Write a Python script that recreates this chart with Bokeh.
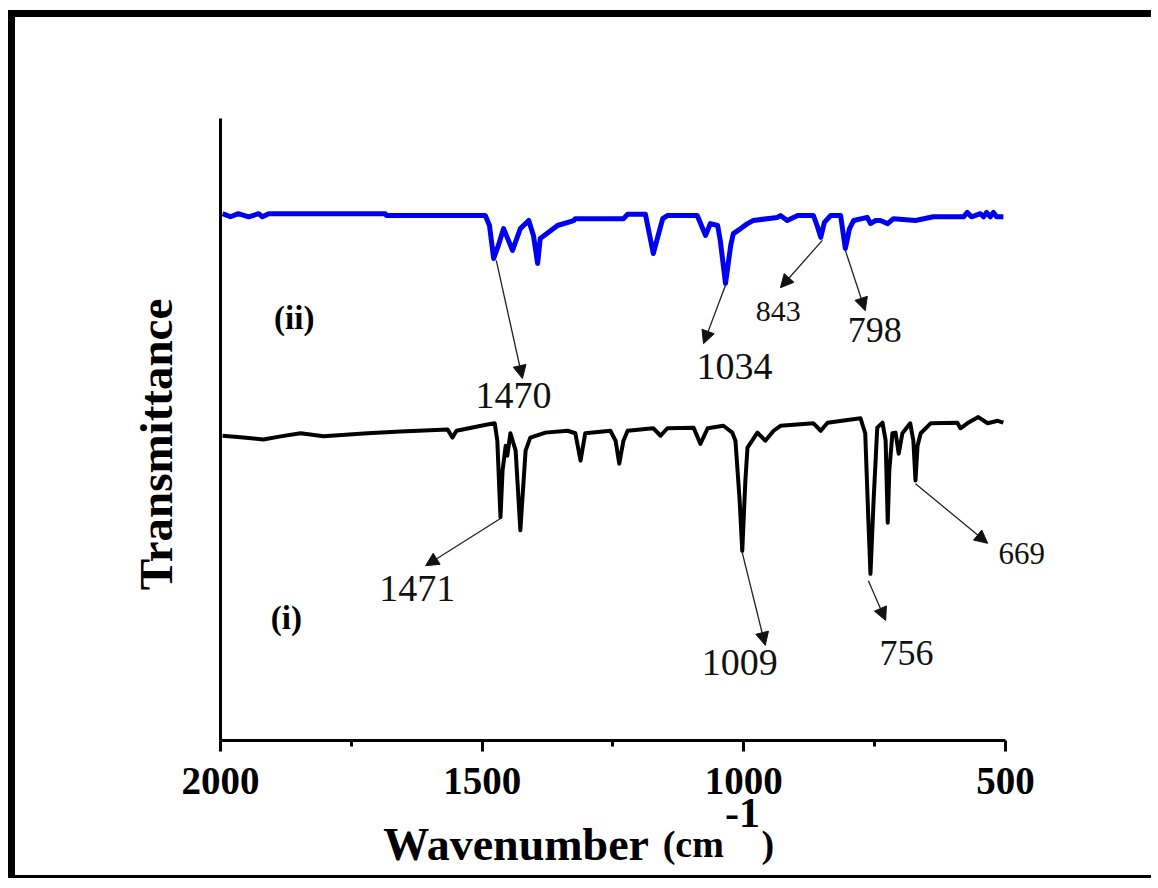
from math import pi
from bokeh.plotting import figure
from bokeh.models import Range1d, Label, Arrow, NormalHead, FixedTicker
from bokeh.embed import file_html
from bokeh.resources import INLINE

# ---- data ----
wn_ii = [1996, 1981, 1966, 1946, 1927, 1920, 1908, 1761, 1685, 1683, 1494, 1486, 1478, 1469,
         1459, 1442, 1427, 1411, 1402, 1394, 1389, 1373, 1356, 1325, 1322, 1230, 1222, 1188,
         1173, 1155, 1146, 1089, 1073, 1064, 1050, 1045, 1035, 1025, 1020, 1006, 993, 982,
         936, 930, 917, 897, 867, 860, 853, 846, 834, 815, 806, 798, 790, 764, 758, 748,
         739, 725, 714, 672, 638, 580, 573, 565, 548, 542, 536, 529, 523, 517, 504]
t_ii = [84.7, 84.2, 84.7, 84.2, 84.7, 84.2, 84.7, 84.7, 84.7, 84.4, 84.4, 82.8, 77.5, 79.6,
        82.3, 78.8, 82.3, 83.6, 81.2, 76.7, 80.7, 81.7, 82.8, 83.6, 83.9, 83.9, 84.6, 84.6,
        78.3, 83.9, 84.4, 84.4, 81.2, 83.1, 82.8, 80.4, 73.5, 79.6, 81.5, 82.3, 83.1, 83.6,
        84.1, 84.4, 83.6, 84.4, 84.4, 82.8, 80.9, 83.3, 84.4, 84.4, 79.1, 82.3, 83.6, 84.1,
        83.1, 83.6, 83.6, 83.1, 83.9, 83.6, 84.2, 84.2, 84.9, 84.2, 84.7, 84.2, 84.9, 84.2,
        84.9, 84.2, 84.2]

wn_i = [1996, 1956, 1918, 1885, 1847, 1803, 1719, 1656, 1566, 1557, 1549, 1490, 1476, 1471,
        1465, 1461, 1455, 1452, 1446, 1436, 1427, 1417, 1408, 1379, 1337, 1322, 1312, 1303,
        1255, 1245, 1238, 1230, 1222, 1173, 1159, 1146, 1096, 1083, 1069, 1039, 1022, 1016,
        1008, 1003, 997, 993, 974, 959, 943, 930, 867, 853, 840, 777, 768, 762, 758, 752,
        745, 735, 729, 725, 722, 716, 710, 704, 697, 682, 676, 672, 668, 662, 643, 592,
        586, 573, 552, 534, 515, 504]
t_i = [49.0, 48.7, 48.4, 48.9, 49.4, 48.9, 49.4, 49.7, 50.0, 48.7, 49.8, 50.8, 51.0, 48.2,
       35.9, 43.4, 47.4, 45.8, 49.4, 46.6, 33.8, 46.6, 48.7, 49.5, 49.8, 49.4, 45.0, 49.4,
       49.8, 48.2, 44.5, 48.2, 49.8, 50.2, 49.0, 50.2, 50.3, 47.7, 50.2, 50.6, 49.5, 48.2,
       38.6, 30.5, 41.8, 47.1, 49.5, 48.2, 49.8, 50.6, 51.0, 49.8, 51.1, 51.8, 49.4, 35.4,
       26.8, 38.6, 50.3, 51.1, 48.2, 35.0, 43.4, 49.4, 49.5, 46.1, 49.4, 51.0, 48.2, 41.8,
       47.4, 49.4, 51.0, 51.1, 50.2, 51.0, 52.0, 51.0, 51.4, 51.1]

x_ticks = [2000, 1500, 1000, 500]
x_minor = [1750, 1250, 750]

peak_labels = ["1470", "1034", "843", "798", "1471", "1009", "756", "669"]
series_labels = ["(ii)", "(i)"]

# annotation geometry: (arrow start, arrow end, label position, font size)
ann = [
    ((1473, 77.2), (1423, 58.2), (1440, 55.4), "38px"),
    ((1035, 73.2), (1077, 63.8), (1018, 60.2), "38px"),
    ((850, 80.4), (930, 72.8), (934, 69.0), "30px"),
    ((806, 78.8), (768, 69.1), (750, 66.0), "36px"),
    ((1465, 35.7), (1608, 28.1), (1624, 24.5), "38px"),
    ((1003, 30.2), (959, 15.3), (1008, 12.5), "38px"),
    ((762, 25.7), (729, 19.3), (689, 14.1), "36px"),
    ((672, 41.3), (534, 31.7), (469, 30.0), "31px"),
]

SERIF = "Liberation Serif"

# frame spans the whole canvas; axes sit at fixed data locations
p = figure(width=1143, height=868, output_backend="svg", toolbar_location=None,
           x_range=Range1d(2391.7, 207.6), y_range=Range1d(-23.31, 116.24),
           min_border=0, min_border_left=0, min_border_right=0,
           min_border_top=0, min_border_bottom=0)
p.title.visible = False
p.styles = {"margin-left": "8px", "margin-top": "10px",
            "border-left": "7px solid black", "border-top": "7px solid black",
            "border-bottom": "3px solid black"}
p.outline_line_color = None
p.xgrid.visible = False
p.ygrid.visible = False
p.background_fill_color = "white"
p.border_fill_color = "white"

# x axis
xa = p.xaxis[0]
xa.fixed_location = 0
xa.bounds = (500, 2000)
xa.ticker = FixedTicker(ticks=x_ticks, minor_ticks=x_minor)
xa.axis_line_width = 3
xa.axis_line_color = "black"
xa.major_tick_line_width = 3
xa.major_tick_in = 0
xa.major_tick_out = 11
xa.minor_tick_line_width = 3
xa.minor_tick_in = 0
xa.minor_tick_out = 6
xa.major_label_text_font = SERIF
xa.major_label_text_font_style = "bold"
xa.major_label_text_font_size = "39px"
xa.major_label_text_color = "black"
xa.major_label_standoff = 16

# y axis (line only)
ya = p.yaxis[0]
ya.fixed_location = 2000
ya.bounds = (0, 100)
ya.ticker = FixedTicker(ticks=[])
ya.axis_line_width = 3
ya.axis_line_color = "black"
ya.major_tick_line_color = None
ya.minor_tick_line_color = None
ya.major_label_text_font_size = "0px"

# spectra
p.line(wn_ii, t_ii, line_color="#0000F0", line_width=5, line_join="round")
p.line(wn_i, t_i, line_color="black", line_width=4, line_join="round")

# arrows and peak labels
for (s, e, lp, fs), txt in zip(ann, peak_labels):
    p.add_layout(Arrow(x_start=s[0], y_start=s[1], x_end=e[0], y_end=e[1],
                       line_color="#222222", line_width=1.3,
                       end=NormalHead(size=13, fill_color="#111111", line_color="#111111")))
    p.add_layout(Label(x=lp[0], y=lp[1], text=txt, text_align="center",
                       text_baseline="alphabetic", text_font=SERIF,
                       text_font_size=fs, text_color="#111111"))

for txt, pos in zip(series_labels, [(1859, 67.9), (1874, 19.7)]):
    p.add_layout(Label(x=pos[0], y=pos[1], text=txt, text_align="center",
                       text_baseline="alphabetic", text_font=SERIF,
                       text_font_style="bold", text_font_size="33px", text_color="black"))

# axis titles
p.add_layout(Label(x=2124, y=47.6, text="Transmittance", angle=pi / 2,
                   text_align="center", text_baseline="middle", text_font=SERIF,
                   text_font_style="bold", text_font_size="47px", text_color="black"))
title_parts = [("Wavenumber", 1689, -16.7, "46px"),
               ("(cm", 1155, -16.7, "38px"),
               ("-1", 1036, -11.6, "42px"),
               (")", 966, -16.7, "38px")]
for txt, x, y, fs in title_parts:
    p.add_layout(Label(x=x, y=y, text=txt, text_align="left",
                       text_baseline="alphabetic", text_font=SERIF,
                       text_font_style="bold", text_font_size=fs, text_color="black"))

open("out.html", "w").write(file_html(p, INLINE))
